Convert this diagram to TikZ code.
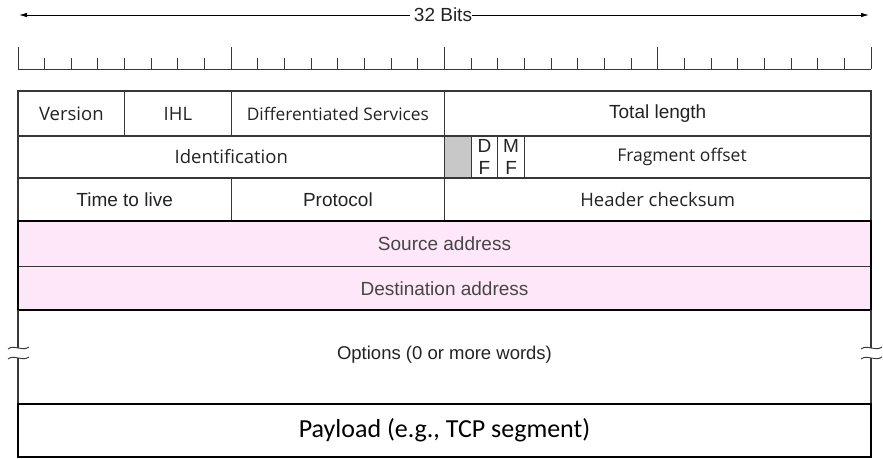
\documentclass[tikz,border=0pt]{standalone}
\usepackage{fontspec}
\setmainfont{Liberation Sans}
\newfontfamily\humfont{Open Sans}
\newfontfamily\calfont{Carlito}
\usetikzlibrary{arrows.meta}

\definecolor{linegray}{RGB}{55,55,55}
\definecolor{txt}{RGB}{35,35,35}
\definecolor{pinktxt}{RGB}{70,70,70}
\definecolor{pinkfill}{RGB}{253,231,248}
\definecolor{flaggray}{RGB}{200,200,200}

\begin{document}
\begin{tikzpicture}[x=1pt,y=-1pt,
  cell/.style={draw=linegray, line width=1.1pt, anchor=north west,
    inner sep=0pt, outer sep=0pt, text=txt,
    font=\fontsize{19}{21}\selectfont},
  hcell/.style={cell, font=\humfont\fontsize{18.5}{21}\selectfont},
  pinkcell/.style={cell, fill=pinkfill, text=pinktxt},
  flagcell/.style={draw=linegray, line width=1.1pt, anchor=north west,
    inner sep=0pt, outer sep=0pt},
  flagtext/.style={inner sep=0pt, text=txt, font=\fontsize{19}{21}\selectfont},
  label/.style={inner sep=0pt, text=txt, font=\fontsize{19}{21}\selectfont},
  thickbox/.style={draw=black, line width=2.4pt},
  thinline/.style={draw=linegray, line width=1.1pt},
  tick/.style={draw=linegray, line width=1pt},
  wave/.style={draw=linegray, line width=0.9pt},
  span/.style={draw=black, line width=0.8pt, -{Latex[length=8pt,width=4.5pt]}}
]
\useasboundingbox (0,0) rectangle (883,458);

% width of one bit
\def\bw{26.656}

% --- 32-bit span arrow -------------------------------------------------
\node[label] (bits) at (443,15) {32 Bits};
\coordinate (bitsL) at (19,15);
\coordinate (bitsR) at (869,15);
\draw[span] (bits.west) ++(-4,0) -- (bitsL);
\draw[span] (bits.east) -- (bitsR);

% --- bit ruler ---------------------------------------------------------
\draw[tick] (18,69) -- (871,69);
\foreach \i in {0,...,32}{
  \pgfmathtruncatemacro{\m}{mod(\i,8)}
  \ifnum\m=0
    \draw[tick] ({18+\i*\bw},69) -- ({18+\i*\bw},47);
  \else
    \draw[tick] ({18+\i*\bw},69) -- ({18+\i*\bw},58);
  \fi
}

% --- row 1 -------------------------------------------------------------
\node[hcell, minimum width=4*\bw, minimum height=45] (ver) at (18,91) {Version};
\node[hcell, minimum width=4*\bw, minimum height=45] (ihl) at ({18+4*\bw},91) {IHL};
\node[hcell, font=\humfont\fontsize{17.3}{21}\selectfont, minimum width=8*\bw, minimum height=45] (dsf) at ({18+8*\bw},91) {Differentiated Services};
\node[cell, minimum width=16*\bw, minimum height=45] (tlen) at ({18+16*\bw},91) {Total length};

% --- row 2 -------------------------------------------------------------
\node[hcell, minimum width=16*\bw, minimum height=42] (ident) at (18,136) {Identification};
\node[cell, fill=flaggray, minimum width=\bw, minimum height=42] (rsv) at ({18+16*\bw},136) {};
\node[flagcell, minimum width=\bw, minimum height=42] (df) at ({18+17*\bw},136) {};
\node[flagcell, minimum width=\bw, minimum height=42] (mf) at ({18+18*\bw},136) {};
% flag letters stacked in their narrow columns
\node[flagtext] (dfD) at ([yshift=11]df.center) {D};
\node[flagtext] (dfF) at ([yshift=-11]df.center) {F};
\node[flagtext] (mfM) at ([yshift=11]mf.center) {M};
\node[flagtext] (mfF) at ([yshift=-11]mf.center) {F};
\node[cell, minimum width=13*\bw, minimum height=42] (frag) at ({18+19*\bw},136) {};
\node[label, font=\humfont\fontsize{17.5}{21}\selectfont] (fragtxt) at (682,157) {Fragment offset};

% --- row 3 -------------------------------------------------------------
\node[cell, minimum width=8*\bw, minimum height=43] (ttl) at (18,178) {Time to live};
\node[cell, minimum width=8*\bw, minimum height=43] (proto) at ({18+8*\bw},178) {Protocol};
\node[hcell, minimum width=16*\bw, minimum height=43] (hsum) at ({18+16*\bw},178) {Header checksum};

% --- addresses ---------------------------------------------------------
\node[pinkcell, minimum width=32*\bw, minimum height=45.5] (src) at (18,221) {Source address};
\node[pinkcell, minimum width=32*\bw, minimum height=43.5] (dst) at (18,266.5) {Destination address};
\draw[thickbox] (src.north west) rectangle (dst.south east);

% --- options -----------------------------------------------------------
\node[label, font=\fontsize{18.5}{21}\selectfont] (opt) at (444.5,355) {Options (0 or more words)};
\coordinate (oLt) at (18,310);
\coordinate (oLb) at (18,404);
\coordinate (oRt) at (871,310);
\coordinate (oRb) at (871,404);
\draw[thinline] (oLt) -- (18,348);
\draw[thinline] (18,358) -- (oLb);
\draw[thinline] (oRt) -- (871,348);
\draw[thinline] (871,358) -- (oRb);
% break marks
\foreach \yy in {348,358}{
  \draw[wave] (8,\yy+1) .. controls (14,\yy-4) and (22,\yy+4) .. (29,\yy-1);
  \draw[wave] (861,\yy+1) .. controls (867,\yy-4) and (875,\yy+4) .. (882,\yy-1);
}

% --- payload -----------------------------------------------------------
\node[cell, draw=black, line width=2.4pt, minimum width=32*\bw, minimum height=53,
      font=\calfont\fontsize{26}{30}\selectfont, text=black] (pay) at (18,404)
      {Payload (e.g., TCP segment)};
\end{tikzpicture}
\end{document}
